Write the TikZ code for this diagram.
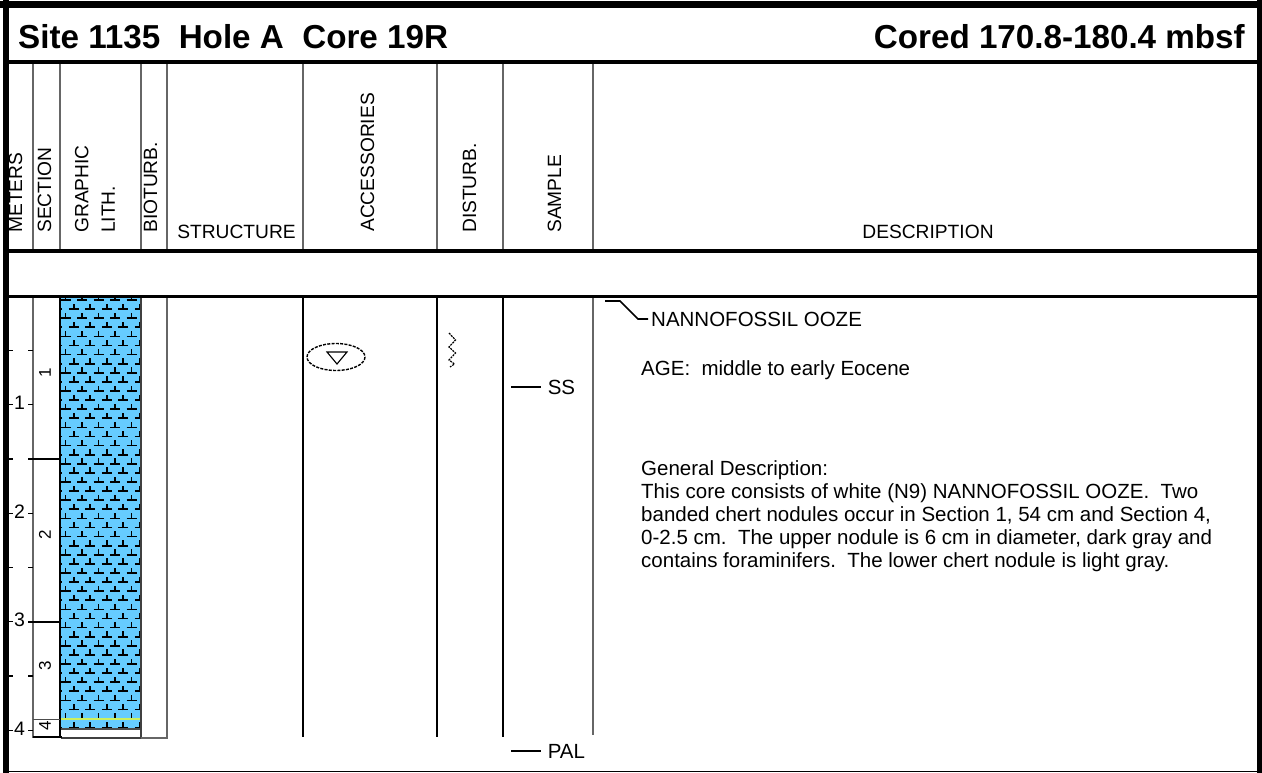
\documentclass[tikz,border=0pt]{standalone}
\usepackage{fontspec}
\setmainfont{Liberation Sans}
\definecolor{oozeblue}{RGB}{102,204,255}
\definecolor{seclime}{RGB}{205,240,95}

\begin{document}
\frenchspacing
\begin{tikzpicture}[x=1pt, y=-1pt, every node/.style={inner sep=0pt},
    hdr/.style={font=\fontsize{19.2}{21}\selectfont},
    vhdr/.style={hdr, rotate=90, anchor=west},
    txt/.style={font=\fontsize{20.5}{23}\selectfont, anchor=base west},
    grid/.style={draw=black!60, line width=1.3pt},
    rule/.style={line width=3.5pt},
    ooze/.style={line width=1.7pt},
    tick/.style={line width=1.3pt}]

\useasboundingbox (0,0) rectangle (1262,773);

% title row
\node[font=\fontsize{33.2}{36}\selectfont\bfseries, anchor=west] (site) at (18,37) {Site 1135\ \ Hole A\ \ Core 19R};
\node[font=\fontsize{33.2}{36}\selectfont\bfseries, anchor=east] (cored) at (1245,37) {Cored 170.8-180.4 mbsf};

% header
\foreach \x in {33,60,141,167,303,437,503,593}
    \draw[grid] (\x,62) -- (\x,251);
\node[vhdr] (meters) at (15.5,233) {METERS};
\node[vhdr] (section) at (44.5,233) {SECTION};
\node[vhdr, align=left, font=\fontsize{19.2}{26.5}\selectfont] (lith) at (95,233) {GRAPHIC\\LITH.};
\node[vhdr] (bioturb) at (150.5,233) {BIOTURB.};
\node[hdr, anchor=base] (structure) at (236.5,239) {STRUCTURE};
\node[vhdr] (access) at (367.5,232) {ACCESSORIES};
\node[vhdr] (disturb) at (469.5,233) {DISTURB.};
\node[vhdr] (sample) at (554.5,233) {SAMPLE};
\node[hdr, anchor=base] (descr) at (928,239) {DESCRIPTION};

% graphic lithology
\fill[oozeblue] (61,296) rectangle (141,729);
\begin{scope}
\clip (61,296) rectangle (141,729);
\foreach \r in {0,...,47} {
    \pgfmathsetmacro\py{300+9.1*\r}
    \pgfmathsetmacro\po{mod(\r,2)*8.25}
    \foreach \c in {-1,...,5} {
        \pgfmathsetmacro\px{65.5+\po+16.5*\c}
        \draw[ooze] (\px-5,\py) -- (\px+5,\py) (\px,\py+0.8) -- (\px,\py-5.5);
    }
}
\end{scope}
\draw[seclime, line width=2pt] (61,719) -- (141,719);
\draw[black!70, line width=1.5pt] (61,729) -- (141,729);
\draw[black!75, line width=1.3pt] (141,296) -- (141,738) -- (61,738);
\draw[grid] (141,738) -- (167,738) -- (167,296);
\draw[line width=2.5pt] (60,296) -- (60,738);

% section column
\draw[grid] (33,296) -- (33,738);
\draw[tick] (28,459) -- (60,459);
\draw[tick] (28,622) -- (60,622);
\draw[black!70, line width=1pt] (33,719) -- (60,719);
\draw[line width=2.5pt] (33,737) -- (62,737);
\foreach \n/\y in {1/373,2/535,3/666,4/726}
    \node[font=\fontsize{17}{17}\selectfont, rotate=90] (sec\n) at (45,\y) {\n};

% meters
\foreach \m in {1,...,4} {
    \node[font=\fontsize{19.5}{20}\selectfont] (m\m) at (19.5,{296+108.6*\m-2}) {\m};
}
\foreach \h in {0.5,1,...,4} {
    \draw[tick] (8,{296+108.6*\h}) -- (12.5,{296+108.6*\h});
    \draw[tick] (28,{296+108.6*\h}) -- (33,{296+108.6*\h});
}

% other columns
\foreach \x in {303,437,503}
    \draw[line width=1.1pt] (\x,296) -- (\x,737);
\draw[grid] (593,296) -- (593,735);

% accessories and disturbance
\draw[dash pattern=on 3pt off 1.3pt, line width=1.4pt] (336,357) ellipse [x radius=29, y radius=13.5];
\draw[line width=1.1pt] (327,352) -- (347,352) -- (337,364) -- cycle;
\draw[dash pattern=on 2pt off 1pt, line width=1.2pt] (449,333) -- (455.5,340) -- (449,347) -- (455.5,353) -- (449,360) -- (454.5,364) -- (450,367);

% samples
\coordinate (ss) at (511,387);
\draw[line width=1.6pt] (ss) -- ++(30,0) node[txt, anchor=west, xshift=6pt] (sslab) {SS};
\coordinate (pal) at (511,751);
\draw[line width=1.6pt] (pal) -- ++(30,0) node[txt, anchor=west, xshift=6pt] (pallab) {PAL};

% description
\coordinate (top) at (605,301);
\draw[line width=1.6pt] (top) -- (620,301) -- (638,319) -- (648,319);
\node[txt, anchor=west] (ooze) at (651,319.5) {NANNOFOSSIL OOZE};
\node[txt] (age) at (641,375) {AGE:\ \ middle to early Eocene};
\node[txt, anchor=north west, align=left] (gen) at (641,460.5) {General Description:\\
This core consists of white (N9) NANNOFOSSIL OOZE.\ \ Two\\
banded chert nodules occur in Section 1, 54 cm and Section 4,\\
0-2.5 cm.\ \ The upper nodule is 6 cm in diameter, dark gray and\\
contains foraminifers.\ \ The lower chert nodule is light gray.};

% rules and frame
\draw[rule] (6,62) -- (1259,62);
\draw[rule] (6,251) -- (1259,251);
\draw[line width=3pt] (6,296) -- (1259,296);
\draw[line width=1.4pt] (6,771.5) -- (1259,771.5);
\draw[line width=7pt] (0,4.5) -- (1262,4.5);
\draw[line width=6pt] (6,0) -- (6,773);
\draw[line width=5pt] (1259.5,0) -- (1259.5,773);

\end{tikzpicture}
\end{document}
